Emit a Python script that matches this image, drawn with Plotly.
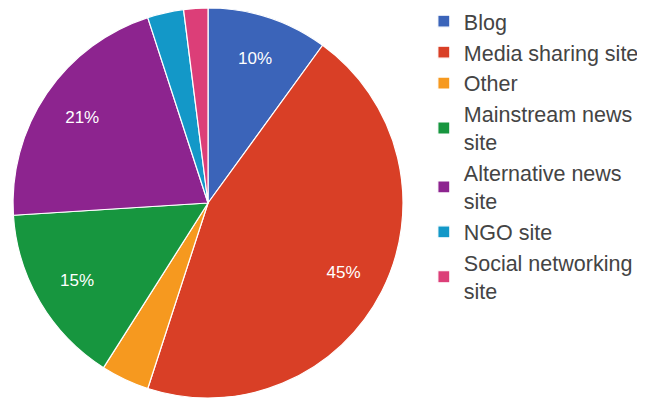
import plotly.graph_objects as go

labels = ["Blog", "Media sharing site", "Other", "Mainstream news<br>site",
          "Alternative news<br>site", "NGO site", "Social networking<br>site"]
values = [10, 45, 4, 15, 21, 3, 2]
colors = ["#3b64b9", "#d93f26", "#f6991f", "#17963f", "#8d248f", "#1398c8", "#dc3e78"]
min_label = 5

texts = [f"{v}%" if v >= min_label else "" for v in values]
domain = dict(x=[0.0078, 0.6124], y=[0.037, 1.0])

fig = go.Figure()

# filled slices
fig.add_trace(go.Pie(
    labels=labels,
    values=values,
    textinfo="none",
    sort=False,
    direction="clockwise",
    rotation=0,
    marker=dict(colors=colors, line=dict(color="white", width=1.2)),
    hoverinfo="label+percent",
    domain=domain,
))

# transparent ring carrying the percentage labels further out
fig.add_trace(go.Pie(
    labels=labels,
    values=values,
    text=texts,
    textinfo="text",
    sort=False,
    direction="clockwise",
    rotation=0,
    hole=0.56,
    marker=dict(colors=["rgba(0,0,0,0)"] * len(values), line=dict(width=0)),
    textfont=dict(color="white", size=17, family="Liberation Sans, Arial"),
    insidetextorientation="horizontal",
    textposition="inside",
    hoverinfo="skip",
    showlegend=False,
    domain=domain,
))

fig.update_layout(
    width=645, height=405,
    margin=dict(l=0, r=0, t=0, b=0, autoexpand=False),
    paper_bgcolor="white",
    showlegend=True,
    legend=dict(
        x=0.6447, y=1.018, xanchor="left", yanchor="top",
        font=dict(size=21.5, color="#444444", family="Liberation Sans, Arial"),
        bgcolor="rgba(0,0,0,0)",
        itemwidth=30,
        traceorder="normal",
        maxheight=1000,
    ),
)

fig.write_html("out.html")
